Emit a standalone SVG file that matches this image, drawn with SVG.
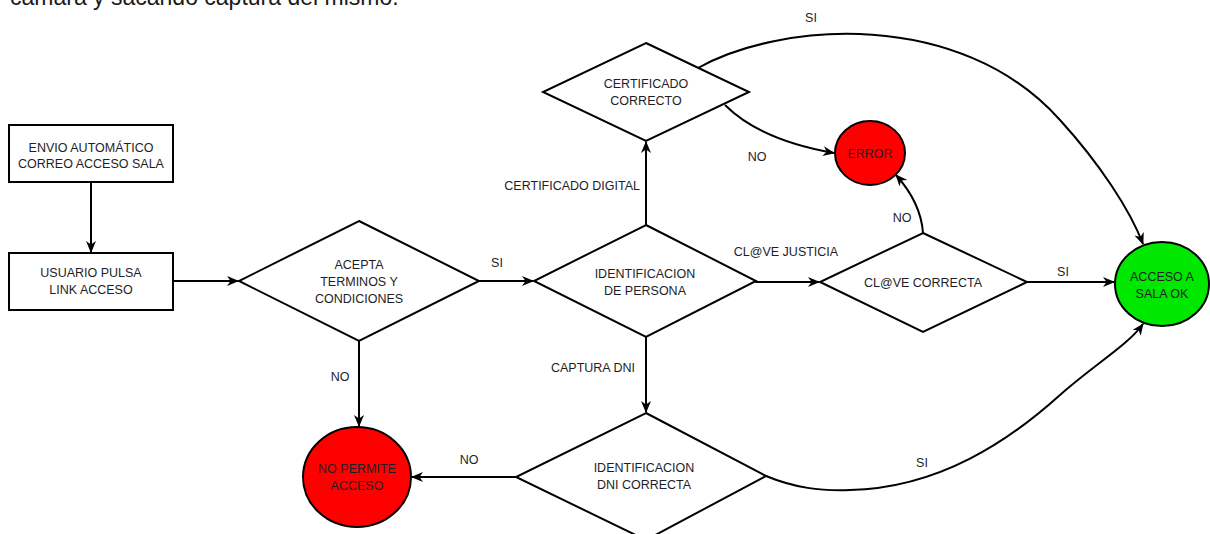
<svg xmlns="http://www.w3.org/2000/svg" width="1210" height="534" viewBox="0 0 1210 534">
  <style>
    .shape { fill: #ffffff; stroke: #000000; stroke-width: 2; }
    .red { fill: #ff0000; stroke: #000000; stroke-width: 2; }
    .green { fill: #00e800; stroke: #000000; stroke-width: 2; }
    .lbl { font-family: "Liberation Sans", Arial, sans-serif; font-size: 12.5px; fill: #1e1e28; text-anchor: middle; }
    .edge { fill: none; stroke: #000000; stroke-width: 2; marker-end: url(#arrow); }
    .head { font-family: "Liberation Sans", Arial, sans-serif; font-size: 23px; fill: #1a1a1a; }
  </style>
  <defs>
    <marker id="arrow" viewBox="0 0 12 10" refX="11" refY="5" markerWidth="12" markerHeight="10" markerUnits="userSpaceOnUse" orient="auto">
      <path d="M0,0 L12,5 L0,10 L3.5,5 Z" fill="#000000"/>
    </marker>
  </defs>

  <rect width="1210" height="534" fill="#ffffff"/>

  <!-- trailing line of the preceding paragraph -->
  <text class="head" x="10" y="5">cámara y sacando captura del mismo.</text>

  <!-- connectors -->
  <g id="connectors">
    <path class="edge" d="M91,182 L91,252"/>
    <path class="edge" d="M173,281 L238,281"/>
    <path class="edge" d="M478,281 L533,281"/>
    <path class="edge" d="M646,225 L646,142"/>
    <path class="edge" d="M755,282 L819,282"/>
    <path class="edge" d="M1027,282 L1114,282"/>
    <path class="edge" d="M359,340 L359,426"/>
    <path class="edge" d="M646,337 L646,412"/>
    <path class="edge" d="M516,477 L412,477"/>
    <!-- certificado correcto: NO -> error -->
    <path class="edge" d="M725,105 Q760,140 834,153"/>
    <!-- clave correcta: NO -> error -->
    <path class="edge" d="M923,233 Q921,203 896,175"/>
    <!-- certificado correcto: SI -> acceso -->
    <path class="edge" d="M698,68 C780,22 960,8 1060,120 C1100,164 1130,210 1143,244"/>
    <!-- dni correcta: SI -> acceso -->
    <path class="edge" d="M766,476 C795,488 820,491 850,490 C940,488 1010,440 1060,395 C1095,364 1128,345 1143,324"/>

    <text class="lbl" x="497" y="267">SI</text>
    <text class="lbl" x="640" y="190" style="text-anchor:end">CERTIFICADO DIGITAL</text>
    <text class="lbl" x="786" y="256">CL@VE JUSTICIA</text>
    <text class="lbl" x="757" y="161">NO</text>
    <text class="lbl" x="902" y="222">NO</text>
    <text class="lbl" x="1063" y="276">SI</text>
    <text class="lbl" x="811" y="22">SI</text>
    <text class="lbl" x="340" y="381">NO</text>
    <text class="lbl" x="593" y="372">CAPTURA DNI</text>
    <text class="lbl" x="469" y="464">NO</text>
    <text class="lbl" x="922" y="467">SI</text>
  </g>

  <g id="envio">
    <rect class="shape" x="9" y="125" width="164" height="57"/>
    <text class="lbl" x="91" y="152">ENVIO AUTOMÁTICO</text>
    <text class="lbl" x="91" y="168">CORREO ACCESO SALA</text>
  </g>

  <g id="usuario">
    <rect class="shape" x="9" y="253" width="164" height="57"/>
    <text class="lbl" x="91" y="277">USUARIO PULSA</text>
    <text class="lbl" x="91" y="294">LINK ACCESO</text>
  </g>

  <g id="acepta">
    <polygon class="shape" points="359,221 479,281 359,341 239,281"/>
    <text class="lbl" x="359" y="269">ACEPTA</text>
    <text class="lbl" x="359" y="286">TERMINOS Y</text>
    <text class="lbl" x="359" y="303">CONDICIONES</text>
  </g>

  <g id="identificacion">
    <polygon class="shape" points="646,225 756,281 646,337 534,281"/>
    <text class="lbl" x="645" y="278">IDENTIFICACION</text>
    <text class="lbl" x="645" y="295">DE PERSONA</text>
  </g>

  <g id="certificado">
    <polygon class="shape" points="646,43 749,92 646,141 543,92"/>
    <text class="lbl" x="646" y="88">CERTIFICADO</text>
    <text class="lbl" x="646" y="105">CORRECTO</text>
  </g>

  <g id="clave">
    <polygon class="shape" points="923,233 1027,282 923,332 820,282"/>
    <text class="lbl" x="923" y="287">CL@VE CORRECTA</text>
  </g>

  <g id="dni">
    <polygon class="shape" points="646,413 766,476 646,540 516,477"/>
    <text class="lbl" x="644" y="472">IDENTIFICACION</text>
    <text class="lbl" x="644" y="489">DNI CORRECTA</text>
  </g>

  <g id="error">
    <ellipse class="red" cx="870" cy="153" rx="35" ry="32"/>
    <text class="lbl" x="870" y="158">ERROR</text>
  </g>

  <g id="acceso">
    <ellipse class="green" cx="1162" cy="284" rx="47" ry="42"/>
    <text class="lbl" x="1162" y="281">ACCESO A</text>
    <text class="lbl" x="1162" y="298">SALA OK</text>
  </g>

  <g id="no-permite">
    <ellipse class="red" cx="357" cy="477" rx="54" ry="50"/>
    <text class="lbl" x="357" y="473">NO PERMITE</text>
    <text class="lbl" x="357" y="490">ACCESO</text>
  </g>
</svg>
